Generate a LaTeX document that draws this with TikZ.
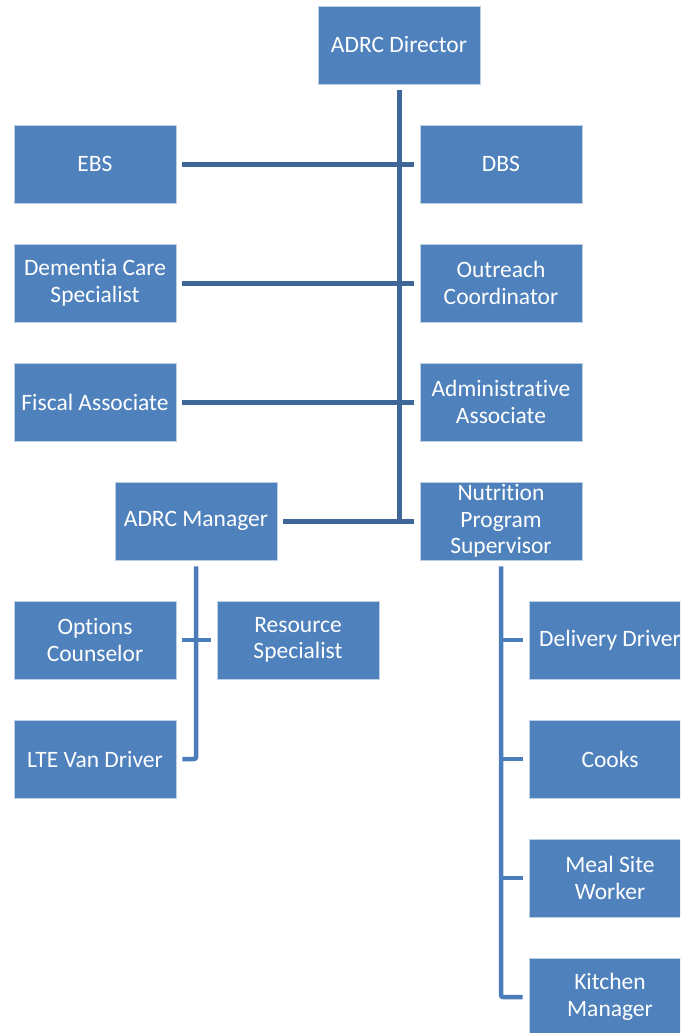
\documentclass[tikz,border=0pt]{standalone}
\usepackage{fontspec}
\setmainfont[Ligatures=NoCommon]{Carlito}
\definecolor{boxfill}{RGB}{79,129,189}
\definecolor{boxedge}{RGB}{190,208,230}
\definecolor{topline}{RGB}{62,103,152}
\definecolor{lowline}{RGB}{74,125,186}
\begin{document}
\begin{tikzpicture}[x=1pt,y=-1pt,
  orgbox/.style={fill=boxfill,draw=boxedge,line width=0.8pt,text=white,
    minimum width=162pt,minimum height=78pt,align=center,inner sep=2pt,
    font=\fontsize{23.5}{26.5}\selectfont},
  conntop/.style={draw=topline,line width=5pt},
  connlow/.style={draw=lowline,line width=4.5pt,rounded corners=2pt}]
\useasboundingbox (0,0) rectangle (680,1033);
\clip (0,0) rectangle (680,1033);
\fill[white] (0,0) rectangle (680,1033);
% nodes
\node[orgbox] (dir) at (399,45) {ADRC Director};
\node[orgbox] (ebs) at (95,164) {EBS};
\node[orgbox] (dbs) at (501,164) {DBS};
\node[orgbox] (dcs) at (95,283) {Dementia Care\\Specialist};
\node[orgbox] (oco) at (501,283) {Outreach\\Coordinator};
\node[orgbox] (fa) at (95,402) {Fiscal Associate};
\node[orgbox] (aa) at (501,402) {Administrative\\Associate};
\node[orgbox] (mgr) at (196,521) {ADRC Manager};
\node[orgbox] (nps) at (501,521) {Nutrition\\Program\\Supervisor};
\node[orgbox] (oc) at (95,640) {Options\\Counselor};
\node[orgbox] (rs) at (298,640) {Resource\\Specialist};
\node[orgbox] (lte) at (95,759) {LTE Van Driver};
\node[orgbox] (dd) at (610,640) {Delivery Driver};
\node[orgbox] (ck) at (610,759) {Cooks};
\node[orgbox] (msw) at (610,878) {Meal Site\\Worker};
\node[orgbox] (km) at (610,997) {Kitchen\\Manager};
% top connectors
\draw[conntop] ([yshift=-6pt]dir.south) -- (dir.south |- mgr.east);
\draw[conntop] ([xshift=6pt]ebs.east) -- ([xshift=-6pt]dbs.west);
\draw[conntop] ([xshift=6pt]dcs.east) -- ([xshift=-6pt]oco.west);
\draw[conntop] ([xshift=6pt]fa.east) -- ([xshift=-6pt]aa.west);
\draw[conntop] ([xshift=6pt]mgr.east) -- ([xshift=-6pt]nps.west);
% manager subtree
\draw[connlow] ([yshift=-6pt]mgr.south) -- (mgr.south |- lte.east) -- ([xshift=6pt]lte.east);
\draw[connlow] ([xshift=6pt]oc.east) -- ([xshift=-6pt]rs.west);
% nutrition subtree
\draw[connlow] ([yshift=-6pt]nps.south) -- (nps.south |- km.west) -- ([xshift=-6pt]km.west);
\draw[connlow] (nps.south |- dd.west) -- ([xshift=-6pt]dd.west);
\draw[connlow] (nps.south |- ck.west) -- ([xshift=-6pt]ck.west);
\draw[connlow] (nps.south |- msw.west) -- ([xshift=-6pt]msw.west);
\end{tikzpicture}
\end{document}
